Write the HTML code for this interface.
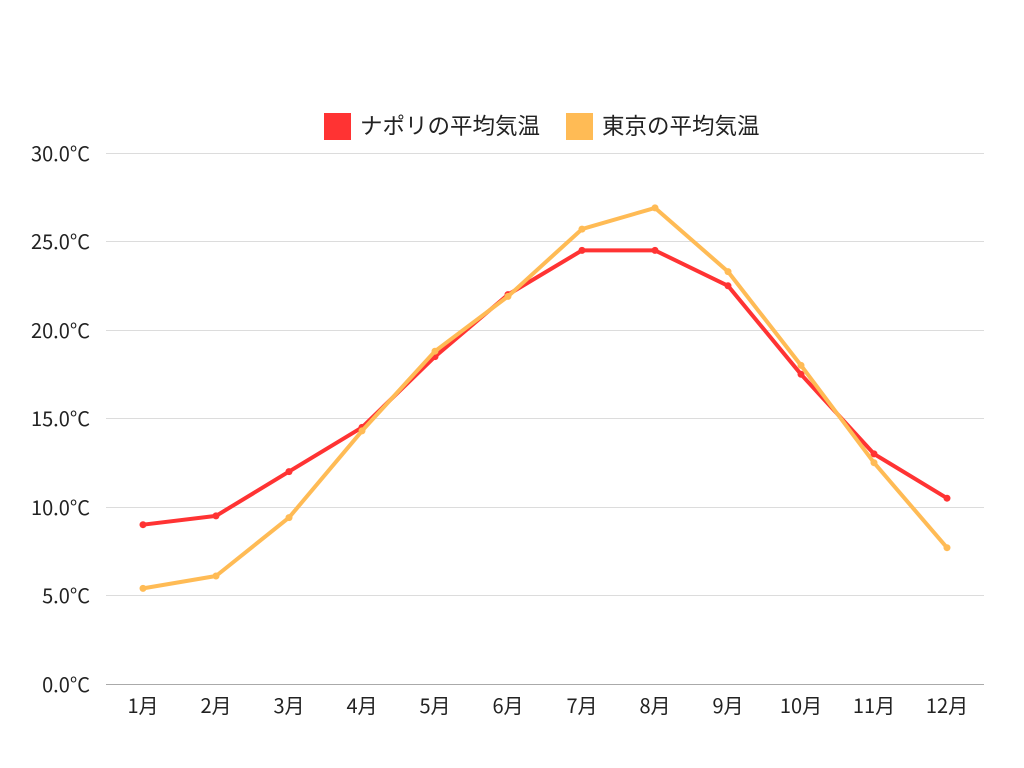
<!DOCTYPE html>
<html><head><meta charset="utf-8"><style>
html,body{margin:0;padding:0;background:#fff;}
svg{display:block;font-family:"Noto Sans CJK JP","Liberation Sans",sans-serif;}
</style></head><body>
<svg width="1024" height="768" viewBox="0 0 1024 768" xmlns="http://www.w3.org/2000/svg">
<rect width="1024" height="768" fill="#fff"/>
<g stroke="#dcdcdc" stroke-width="1">
<line x1="106" y1="153.5" x2="984" y2="153.5"/>
<line x1="106" y1="241.5" x2="984" y2="241.5"/>
<line x1="106" y1="330.5" x2="984" y2="330.5"/>
<line x1="106" y1="418.5" x2="984" y2="418.5"/>
<line x1="106" y1="507.5" x2="984" y2="507.5"/>
<line x1="106" y1="595.5" x2="984" y2="595.5"/>
</g>
<line x1="106" y1="684.5" x2="984" y2="684.5" stroke="#aaa" stroke-width="1"/>
<g font-size="20" fill="#222" text-anchor="end">
<text x="90" y="161">30.0°C</text>
<text x="90" y="249">25.0°C</text>
<text x="90" y="338">20.0°C</text>
<text x="90" y="426">15.0°C</text>
<text x="90" y="515">10.0°C</text>
<text x="90" y="603">5.0°C</text>
<text x="90" y="692">0.0°C</text>
</g>
<g font-size="20" fill="#222" text-anchor="middle">
<text x="143" y="713">1月</text>
<text x="216" y="713">2月</text>
<text x="289" y="713">3月</text>
<text x="362" y="713">4月</text>
<text x="435" y="713">5月</text>
<text x="508" y="713">6月</text>
<text x="582" y="713">7月</text>
<text x="655" y="713">8月</text>
<text x="728" y="713">9月</text>
<text x="801" y="713">10月</text>
<text x="874" y="713">11月</text>
<text x="947" y="713">12月</text>
</g>
<rect x="324" y="113" width="27" height="27" fill="#ff3333"/>
<text x="360" y="134" font-size="22.5" fill="#222">ナポリの平均気温</text>
<rect x="566" y="113" width="27" height="27" fill="#ffbb55"/>
<text x="602" y="134" font-size="22.5" fill="#222">東京の平均気温</text>
<polyline fill="none" stroke="#ff3333" stroke-width="4" stroke-linejoin="round" points="143,524.7 216,515.9 289,471.6 362,427.4 435,356.6 508,294.6 582,250.4 655,250.4 728,285.8 801,374.3 874,453.9 947,498.2"/>
<g fill="#ff3333">
<circle cx="143" cy="524.7" r="3.5"/><circle cx="216" cy="515.9" r="3.5"/><circle cx="289" cy="471.6" r="3.5"/><circle cx="362" cy="427.4" r="3.5"/><circle cx="435" cy="356.6" r="3.5"/><circle cx="508" cy="294.6" r="3.5"/><circle cx="582" cy="250.4" r="3.5"/><circle cx="655" cy="250.4" r="3.5"/><circle cx="728" cy="285.8" r="3.5"/><circle cx="801" cy="374.3" r="3.5"/><circle cx="874" cy="453.9" r="3.5"/><circle cx="947" cy="498.2" r="3.5"/>
</g>
<polyline fill="none" stroke="#ffbb55" stroke-width="4" stroke-linejoin="round" points="143,588.4 216,576.0 289,517.6 362,430.9 435,351.2 508,296.4 582,229.1 655,207.9 728,271.6 801,365.4 874,462.7 947,547.7"/>
<g fill="#ffbb55">
<circle cx="143" cy="588.4" r="3.5"/><circle cx="216" cy="576.0" r="3.5"/><circle cx="289" cy="517.6" r="3.5"/><circle cx="362" cy="430.9" r="3.5"/><circle cx="435" cy="351.2" r="3.5"/><circle cx="508" cy="296.4" r="3.5"/><circle cx="582" cy="229.1" r="3.5"/><circle cx="655" cy="207.9" r="3.5"/><circle cx="728" cy="271.6" r="3.5"/><circle cx="801" cy="365.4" r="3.5"/><circle cx="874" cy="462.7" r="3.5"/><circle cx="947" cy="547.7" r="3.5"/>
</g>
</svg>
</body></html>
